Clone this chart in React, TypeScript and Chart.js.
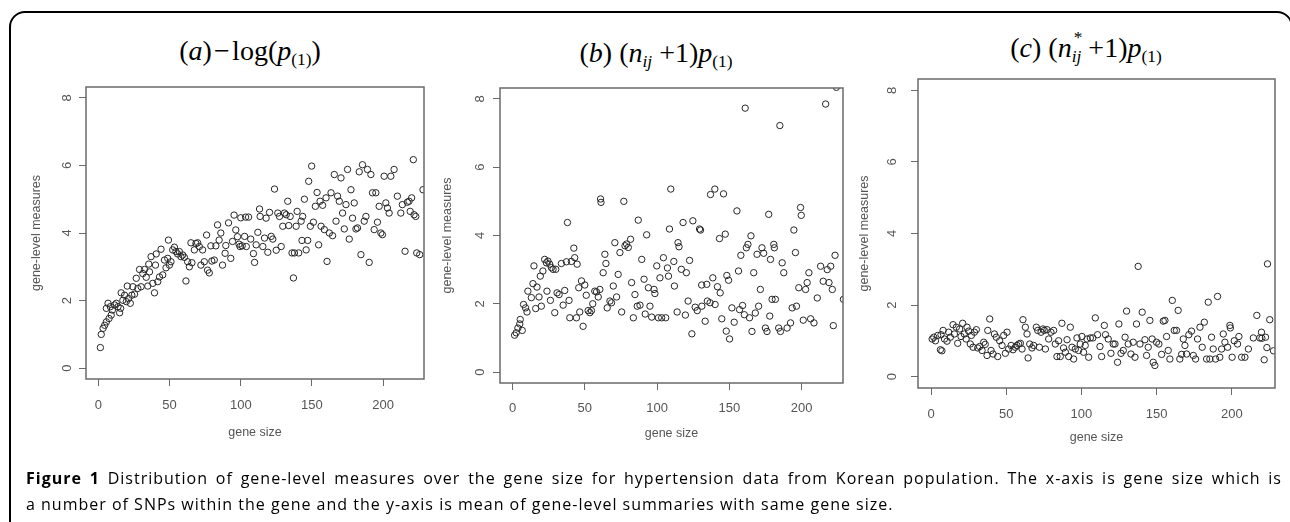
import React, { useEffect, useRef } from 'react';
import { Chart, registerables } from 'chart.js';

Chart.register(...registerables);

const W = 1290;
const H = 522;

const X_MIN = -8.7;
const X_MAX = 228.7;
const Y_MIN = -0.32;
const Y_MAX = 8.32;

const xTickValues = [0, 50, 100, 150, 200];
const xTickLabels = ['0', '50', '100', '150', '200'];
const yTickValues = [0, 2, 4, 6, 8];
const yTickLabels = ['0', '2', '4', '6', '8'];
const xAxisTitle = 'gene size';
const yAxisTitle = 'gene-level measures';

// (a) -log(p(1)) : [gene size, gene-level measure]
const pointsA: [number, number][] = [
  [1.4, 0.61], [2, 1.0], [3.3, 1.18], [4.4, 1.27], [5.6, 1.37], [5.6, 1.77], [6.8, 1.92], [7.5, 1.47], [8.4, 1.82], [9, 1.57],
  [9.8, 1.72], [11.4, 1.87], [12.6, 1.92], [13.8, 1.82], [14.9, 1.64], [15.6, 1.77], [16, 2.23], [17.2, 2.01], [18.4, 2.16], [19.6, 1.97],
  [20.3, 2.43], [21.2, 2.06], [22.4, 1.92], [23.5, 2.16], [24.2, 2.41], [25.4, 2.19], [26.6, 2.66], [27.7, 2.36], [28.9, 2.92], [30, 2.41],
  [31.2, 2.8], [32.4, 2.92], [33.6, 2.69], [34.7, 2.43], [35.4, 3.08], [35.9, 2.85], [37, 3.3], [38.2, 2.51], [39.4, 2.23], [40.1, 3.05],
  [40.6, 3.38], [41.7, 2.56], [42.9, 2.7], [44, 3.52], [45.2, 2.76], [46.4, 3.2], [47.5, 2.97], [48.7, 3.25], [49.2, 3.79], [49.9, 3.05],
  [51, 3.15], [52.2, 3.5], [53.4, 3.58], [54.5, 3.45], [55.7, 3.38], [56.9, 3.45], [58, 3.3], [59.2, 3.35], [60.4, 3.28], [61.5, 2.58],
  [62.7, 3.15], [63.9, 3.0], [65, 3.71], [65.7, 3.12], [67.4, 3.5], [68.5, 3.69], [69.7, 3.71], [70.9, 3.6], [72, 3.05], [73.2, 3.5],
  [74.4, 3.15], [76, 3.94], [76.7, 2.9], [77.9, 2.82], [79, 3.62], [79.7, 3.17], [81.4, 3.2], [82.5, 3.62], [83.7, 4.24], [84.8, 3.79],
  [86, 4.0], [87.2, 3.05], [89, 3.4], [89.5, 3.63], [91.4, 4.3], [93, 3.25], [94.2, 3.75], [95.3, 4.53], [96.5, 4.09], [97.7, 3.89],
  [98.8, 3.67], [99.5, 3.6], [100, 4.45], [101, 3.62], [102.7, 3.9], [103.4, 4.47], [103.9, 3.6], [105.5, 4.47], [107, 3.82], [108.9, 3.39],
  [109.7, 3.13], [110.8, 3.65], [112, 4.02], [113.2, 4.71], [113.6, 4.49], [115.5, 3.6], [116.7, 3.85], [117.8, 4.44], [119, 3.43], [120.2, 4.61],
  [121.4, 3.9], [122.5, 3.82], [123.7, 5.3], [124.9, 3.49], [126, 4.59], [127.2, 4.49], [128.4, 3.6], [129.5, 4.2], [130.7, 4.59], [131.9, 4.54],
  [133, 4.94], [133.7, 4.22], [134.7, 4.49], [136, 3.41], [137, 2.67], [137.7, 3.41], [138.9, 4.2], [139.6, 4.64], [140.7, 3.41], [142.4, 4.35],
  [143, 3.78], [143.5, 4.49], [144.7, 5.0], [145.9, 3.5], [147, 3.78], [147.7, 5.53], [148.9, 4.2], [149.8, 5.98], [151, 4.32], [152.4, 4.79],
  [153.6, 5.2], [154.7, 3.65], [155.7, 4.94], [156.4, 4.2], [157.5, 4.82], [158.7, 4.1], [159.9, 5.04], [160.6, 3.16], [162.2, 4.0], [163.4, 5.19],
  [164.5, 3.92], [165.7, 5.73], [166.9, 4.35], [168, 5.09], [169.2, 4.94], [170.4, 5.63], [171.5, 4.59], [172.7, 4.12], [173.9, 4.84], [175, 5.88],
  [176.2, 3.82], [177.4, 5.28], [178.5, 4.44], [179.7, 4.89], [180.9, 4.12], [182, 4.15], [183.2, 5.81], [184.4, 3.36], [185.5, 6.02], [186.7, 4.35],
  [187.9, 4.49], [189, 5.88], [190.2, 3.13], [191.4, 5.73], [192.5, 5.19], [193.7, 4.1], [194.9, 5.19], [196, 4.32], [197.2, 4.79], [198.4, 4.0],
  [199.5, 3.95], [200.7, 5.68], [201.9, 4.89], [203, 4.74], [204.2, 4.59], [205.4, 5.68], [207.7, 5.88], [210, 5.09], [212.4, 4.59], [213.5, 4.84],
  [215.4, 3.46], [217, 4.91], [218.2, 4.94], [219, 4.64], [220, 5.04], [221.2, 6.17], [221.7, 4.54], [222.9, 4.49], [223.6, 3.41], [225.7, 3.36],
  [228, 5.28],
];

// (b) (n_ij + 1) p(1)
const pointsB: [number, number][] = [
  [1.4, 1.08], [2.5, 1.15], [3.7, 1.29], [5, 1.41], [5.3, 1.54], [6.7, 1.22], [7.6, 1.98], [9, 1.88], [10, 1.76], [10.6, 2.37],
  [13, 2.18], [14.1, 2.59], [14.8, 3.11], [16, 1.86], [16.9, 2.49], [18.3, 2.2], [19.2, 2.81], [19.9, 1.93], [21, 2.96], [22.2, 3.3],
  [23.4, 3.2], [23.8, 2.37], [24.5, 3.25], [25.7, 3.16], [26.2, 2.1], [26.9, 3.06], [28, 3.01], [29.2, 1.74], [29.9, 3.01], [30.8, 2.32],
  [32.2, 2.27], [33.8, 3.18], [35, 1.96], [36.1, 2.39], [37.3, 3.23], [38, 4.38], [39.1, 2.1], [39.6, 1.59], [40.7, 3.24], [42.4, 3.63],
  [43, 3.35], [44.2, 1.59], [44.7, 3.16], [45.8, 2.47], [46.5, 1.76], [47.7, 2.67], [48.8, 1.34], [50, 2.55], [51, 2.25], [52.3, 1.8],
  [53.5, 1.74], [54.6, 1.8], [55.5, 2.0], [56.9, 2.37], [58.1, 2.35], [59.3, 2.2], [60.4, 2.42], [60.9, 5.07], [61.2, 4.97], [62.7, 2.91],
  [63.9, 3.45], [64.6, 3.18], [65.5, 1.88], [67.4, 2.08], [68.5, 2.03], [69.7, 2.52], [70.8, 3.79], [72, 2.2], [73.1, 2.86], [74.3, 3.5],
  [75.5, 1.76], [77, 5.0], [77.8, 3.7], [78.9, 3.75], [80.1, 3.65], [81.7, 3.89], [82.4, 2.62], [83.6, 1.59], [84.7, 2.27], [86.3, 1.93],
  [87, 4.45], [88.2, 1.96], [89.4, 3.3], [91, 2.72], [91.8, 1.7], [92.8, 4.02], [94, 2.47], [95.1, 1.93], [96.3, 1.61], [97.9, 2.42],
  [98.5, 2.3], [99.8, 3.11], [100.9, 1.59], [102, 2.76], [103.2, 1.59], [104.4, 3.35], [106, 1.59], [107.2, 3.05], [107.9, 2.81], [108.6, 4.19],
  [109.5, 5.36], [111.6, 3.24], [112, 2.52], [113.9, 1.76], [114.5, 3.79], [115.2, 3.67], [116.8, 3.01], [118, 4.38], [119.6, 1.67], [120.3, 2.91],
  [121.5, 2.08], [122.5, 3.27], [124.1, 1.12], [124.8, 4.43], [126.4, 1.9], [127.8, 1.8], [129.4, 4.19], [130.1, 4.16], [130.9, 2.55], [131, 1.93],
  [133.3, 1.49], [134.4, 2.57], [134.8, 2.08], [136.7, 2.03], [137, 5.2], [138.6, 2.76], [140, 5.36], [140.2, 1.98], [141.8, 2.5], [143.2, 3.91],
  [143.7, 2.32], [144.8, 1.56], [146, 5.22], [147.2, 4.04], [147.9, 1.2], [148.3, 2.83], [149.5, 2.69], [150.2, 0.97], [151.8, 1.88], [153.4, 1.46],
  [155.3, 4.72], [156.4, 2.96], [157.1, 1.83], [158, 3.42], [159.2, 1.95], [160.4, 1.68], [161, 7.73], [161.8, 3.64], [162.9, 3.74], [164, 1.59],
  [165, 3.99], [165.7, 1.19], [166.9, 2.91], [168, 1.73], [169.2, 3.45], [170.3, 1.93], [171.5, 2.42], [172.6, 3.64], [173.8, 3.48], [175, 1.29],
  [176.1, 1.19], [177.3, 4.62], [178, 1.64], [178.5, 3.3], [179.6, 2.13], [180.8, 3.74], [181.2, 3.64], [181.9, 2.13], [184.2, 1.29], [185, 7.22],
  [185.4, 1.19], [186.6, 3.2], [187.7, 2.91], [190, 1.29], [192.4, 1.44], [193.5, 1.88], [194.7, 4.16], [195.8, 3.5], [196.5, 1.93], [198.1, 2.47],
  [199.3, 4.82], [199.8, 4.59], [201.2, 1.52], [202.8, 2.42], [203.9, 2.62], [205.1, 2.91], [206.3, 1.56], [208.6, 1.44], [210.9, 2.17], [213.2, 3.1],
  [215, 2.66], [216.7, 7.85], [217.8, 3.0], [219, 2.62], [220.2, 3.1], [221.3, 2.42], [222, 1.36], [223.2, 3.42], [224.1, 8.34], [229, 2.13],
];

// (c) (n*_ij + 1) p(1)
const pointsC: [number, number][] = [
  [0.7, 1.05], [1.8, 1.1], [2.9, 1.0], [4.4, 1.15], [6.2, 0.75], [6.6, 1.17], [7.2, 0.72], [8, 1.29], [8.9, 1.05], [10.6, 0.99],
  [11.7, 1.24], [12.8, 1.1], [14.6, 1.45], [15.5, 1.19], [16.8, 1.38], [17.7, 0.93], [19, 1.33], [19.9, 1.12], [21, 1.49], [22.1, 1.19],
  [23.3, 1.05], [23.9, 1.38], [25, 1.27], [26.1, 0.91], [26.8, 1.15], [27.9, 0.82], [28.8, 1.24], [30.1, 1.31], [31, 0.8], [32.3, 0.84],
  [33.9, 0.73], [35, 0.96], [36, 0.9], [37.2, 0.59], [37.7, 1.29], [39, 1.61], [39.9, 0.73], [41.2, 0.63], [42.1, 1.19], [43.4, 1.1],
  [44.3, 0.56], [45.6, 1.0], [47.2, 0.87], [48.3, 1.15], [49.4, 0.65], [50.5, 1.24], [51.6, 0.77], [53.2, 0.87], [54.5, 0.75], [56, 0.82],
  [57.1, 0.87], [58.3, 0.91], [59.4, 0.93], [60.5, 0.77], [61.1, 1.59], [62.7, 1.38], [63.8, 1.19], [64.5, 0.52], [65.6, 0.91], [67.1, 0.8],
  [68.2, 0.87], [70, 1.38], [70.9, 1.29], [72, 0.82], [73.1, 1.24], [74.4, 1.33], [75.3, 1.29], [76, 0.77], [77.1, 1.31], [78.2, 1.05],
  [79.7, 1.24], [81.5, 1.29], [82.6, 0.91], [83.7, 0.56], [84.8, 1.0], [85.9, 0.56], [87, 1.49], [88.1, 0.8], [89.3, 0.68], [90.4, 1.03],
  [91.5, 0.56], [92.6, 1.38], [93.7, 0.82], [94.8, 0.49], [95.9, 0.77], [97, 1.08], [98.1, 0.73], [99.2, 0.91], [100.3, 1.12], [101.4, 0.68],
  [102.5, 0.87], [103.7, 1.05], [104.8, 0.54], [105.9, 1.08], [107.6, 1.08], [109.2, 1.64], [110.7, 1.17], [112.3, 0.84], [113.4, 0.56], [115.2, 1.43],
  [116, 1.17], [117.8, 1.05], [119.6, 0.65], [121.1, 0.91], [122.3, 0.91], [124, 0.4], [124.9, 1.47], [126.3, 0.65], [127.8, 0.73], [129, 1.1],
  [130, 1.83], [131.1, 0.91], [132.9, 0.63], [134.4, 0.96], [135.6, 0.54], [136.6, 1.47], [137.7, 3.08], [138.9, 0.91], [140.4, 1.8], [142.2, 1.03],
  [143.3, 0.59], [144.4, 0.82], [145.5, 1.57], [147, 1.05], [147.7, 0.4], [148.8, 0.31], [149.9, 0.96], [151.5, 0.91], [153.3, 0.62], [154.4, 1.55],
  [155.5, 1.57], [156.6, 1.12], [157.7, 0.73], [158.8, 0.49], [160.4, 2.13], [161.7, 1.29], [163.2, 1.29], [164.3, 1.85], [165.4, 0.49], [166.6, 0.62],
  [167.7, 1.05], [168.8, 0.87], [169.9, 0.63], [171.4, 1.17], [173.2, 1.27], [174.4, 0.59], [175.9, 0.49], [177.2, 1.05], [178.8, 1.38], [180.3, 0.82],
  [181.7, 1.52], [183.2, 0.49], [184.3, 2.08], [185.4, 0.49], [186.5, 1.1], [187.6, 0.77], [189.2, 0.49], [190.5, 2.24], [192, 0.54], [193.2, 0.77],
  [194.3, 1.19], [195.4, 0.96], [197.2, 0.82], [198.7, 1.43], [199, 1.36], [200.2, 0.54], [201.6, 1.0], [203.8, 0.91], [204.7, 1.12], [206.5, 0.54],
  [208.7, 0.54], [211, 0.77], [214.3, 1.08], [216.6, 1.71], [218.6, 1.08], [219.7, 1.24], [220, 1.07], [221.5, 0.47], [222.4, 1.1], [223.3, 0.81],
  [223.7, 3.15], [225.2, 1.59], [227.7, 0.72],
];

const AXIS_FONT = '"Liberation Sans", Arial, sans-serif';
const SERIF = '"Liberation Serif", "Times New Roman", serif';
const TEXT_GREY = '#555';
const LINE_GREY = '#6a6a6a';
const POINT_COLOR = '#262626';
const TICK_LEN = 7;
const TITLE_LH = 15;
const TICK_FONT_SIZE = 13;

type PanelCfg = {
  points: [number, number][];
  L: number; R: number; T: number; B: number;
  xTickY: number; xTitleY: number; yTickX: number; yTitleX: number;
};

const panels: PanelCfg[] = [
  { points: pointsA, L: 86, R: 424, T: 87, B: 379, xTickY: 405, xTitleY: 433, yTickX: 67, yTitleX: 37 },
  { points: pointsB, L: 500, R: 843, T: 88, B: 383, xTickY: 408, xTitleY: 434, yTickX: 480, yTitleX: 448 },
  { points: pointsC, L: 918, R: 1275, T: 79, B: 388, xTickY: 414, xTitleY: 438, yTickX: 892, yTitleX: 865 },
];

function Panel({ cfg }: { cfg: PanelCfg }) {
  const ref = useRef<HTMLCanvasElement | null>(null);
  useEffect(() => {
    if (!ref.current) return;
    const padLeft = cfg.yTitleX - TITLE_LH / 2;
    const xScaleHeight = cfg.xTitleY + TITLE_LH / 2 - cfg.B;
    const padBottom = H - (cfg.xTitleY + TITLE_LH / 2);
    const boxPlugin = {
      id: 'rBox',
      afterDatasetsDraw(chart: any) {
        const { ctx, chartArea: a } = chart;
        ctx.save();
        ctx.strokeStyle = LINE_GREY;
        ctx.lineWidth = 1.5;
        ctx.strokeRect(a.left, a.top, a.right - a.left, a.bottom - a.top);
        const ys = chart.scales.y;
        ctx.fillStyle = TEXT_GREY;
        ctx.font = `${TICK_FONT_SIZE}px ${AXIS_FONT}`;
        ctx.textAlign = 'center';
        ctx.textBaseline = 'middle';
        yTickValues.forEach((v, i) => {
          const py = ys.getPixelForValue(v);
          ctx.save();
          ctx.translate(cfg.yTickX, py);
          ctx.rotate(-Math.PI / 2);
          ctx.fillText(yTickLabels[i], 0, 0);
          ctx.restore();
        });
        ctx.restore();
      },
    };
    const chart = new Chart(ref.current, {
      type: 'scatter',
      data: {
        datasets: [
          {
            data: cfg.points.map(([x, y]) => ({ x, y })),
            pointStyle: 'circle',
            pointRadius: 3.2,
            pointBorderWidth: 1,
            pointBorderColor: POINT_COLOR,
            pointBackgroundColor: 'rgba(0,0,0,0)',
            clip: 0,
          } as any,
        ],
      },
      options: {
        responsive: false,
        animation: false,
        events: [],
        layout: {
          padding: { left: padLeft, right: W - cfg.R, top: cfg.T, bottom: padBottom },
        },
        plugins: { legend: { display: false }, tooltip: { enabled: false } },
        scales: {
          x: {
            type: 'linear',
            min: X_MIN,
            max: X_MAX,
            afterBuildTicks: (s: any) => {
              s.ticks = xTickValues.map((v) => ({ value: v }));
            },
            afterFit: (s: any) => {
              s.height = xScaleHeight;
            },
            grid: { drawOnChartArea: false, drawTicks: true, tickLength: TICK_LEN, color: LINE_GREY, lineWidth: 1 },
            border: { display: false },
            ticks: {
              padding: cfg.xTickY - cfg.B - TICK_LEN - (TICK_FONT_SIZE * 1.2) / 2,
              color: TEXT_GREY,
              font: { family: AXIS_FONT, size: TICK_FONT_SIZE, lineHeight: 1.2 },
              maxRotation: 0,
              autoSkip: false,
              callback: (v: any) => {
                const i = xTickValues.indexOf(Number(v));
                return i >= 0 ? xTickLabels[i] : '';
              },
            },
            title: {
              display: true,
              text: xAxisTitle,
              color: TEXT_GREY,
              font: { family: AXIS_FONT, size: 12.5, lineHeight: TITLE_LH / 12.5 },
              padding: 0,
            },
          } as any,
          y: {
            type: 'linear',
            min: Y_MIN,
            max: Y_MAX,
            afterBuildTicks: (s: any) => {
              s.ticks = yTickValues.map((v) => ({ value: v }));
            },
            afterFit: (s: any) => {
              s.width = cfg.L - padLeft;
            },
            grid: { drawOnChartArea: false, drawTicks: true, tickLength: TICK_LEN, color: LINE_GREY, lineWidth: 1 },
            border: { display: false },
            ticks: { display: false },
            title: {
              display: true,
              text: yAxisTitle,
              color: TEXT_GREY,
              font: { family: AXIS_FONT, size: 12.5, lineHeight: TITLE_LH / 12.5 },
              padding: 0,
            },
          } as any,
        },
      },
      plugins: [boxPlugin],
    });
    return () => chart.destroy();
  }, [cfg]);
  return (
    <canvas
      ref={ref}
      width={W}
      height={H}
      style={{ position: 'absolute', left: 0, top: 0, width: W, height: H }}
    />
  );
}

const Sub = ({ children }: { children: React.ReactNode }) => (
  <span style={{ fontSize: '0.62em', position: 'relative', top: '0.34em' }}>{children}</span>
);

const TITLE_SIZE = 28;

function Title({ cx, baseline, children }: { cx: number; baseline: number; children: React.ReactNode }) {
  return (
    <div
      style={{
        position: 'absolute',
        left: cx,
        top: baseline - 0.837 * TITLE_SIZE,
        transform: 'translateX(-50%)',
        fontFamily: SERIF,
        fontSize: TITLE_SIZE,
        fontStyle: 'normal',
        fontWeight: 'normal',
        lineHeight: 1,
        whiteSpace: 'nowrap',
        color: '#000',
      }}
    >
      {children}
    </div>
  );
}

const captionBold = 'Figure 1';
const captionLine1 =
  ' Distribution of gene-level measures over the gene size for hypertension data from Korean population. The x-axis is gene size which is';
const captionLine2 =
  'a number of SNPs within the gene and the y-axis is mean of gene-level summaries with same gene size.';

export default function App() {
  return (
    <div
      style={{
        position: 'fixed',
        left: 0,
        top: 0,
        width: W,
        height: H,
        overflow: 'hidden',
        background: '#fff',
      }}
    >
      <div
        style={{
          position: 'absolute',
          left: 9,
          top: 11,
          width: 1290 - 9 + 3,
          height: 700,
          border: '2px solid #000',
          borderRadius: 16,
          boxSizing: 'border-box',
        }}
      />
      <Title cx={250} baseline={60}>
        (<i>a</i>)<span style={{ margin: '0 0.08em' }}>−</span>log(<i>p</i>
        <Sub>(1)</Sub>)
      </Title>
      <Title cx={656} baseline={62}>
        (<i>b</i>) (<i>n</i>
        <Sub>
          <i>ij</i>
        </Sub>{' '}
        +1)<i>p</i>
        <Sub>(1)</Sub>
      </Title>
      <Title cx={1086} baseline={57}>
        (<i>c</i>) (<i>n</i>
        <span style={{ position: 'relative', display: 'inline-block' }}>
          <Sub>
            <i>ij</i>
          </Sub>
          <span style={{ position: 'absolute', left: '0.12em', top: '-0.28em', fontSize: '0.62em' }}>*</span>
        </span>{' '}
        +1)<i>p</i>
        <Sub>(1)</Sub>
      </Title>
      {panels.map((p, i) => (
        <Panel key={i} cfg={p} />
      ))}
      <div
        style={{
          position: 'absolute',
          left: 26,
          top: 465,
          width: 1256,
          fontFamily: '"Open Sans", "Noto Sans", sans-serif',
          fontSize: 16,
          letterSpacing: '1px',
          lineHeight: '26px',
          color: '#000',
        }}
      >
        <div style={{ textAlign: 'justify', textAlignLast: 'justify', whiteSpace: 'nowrap' }}>
          <b>{captionBold}</b>
          {captionLine1}
        </div>
        <div style={{ whiteSpace: 'nowrap' }}>{captionLine2}</div>
      </div>
    </div>
  );
}
